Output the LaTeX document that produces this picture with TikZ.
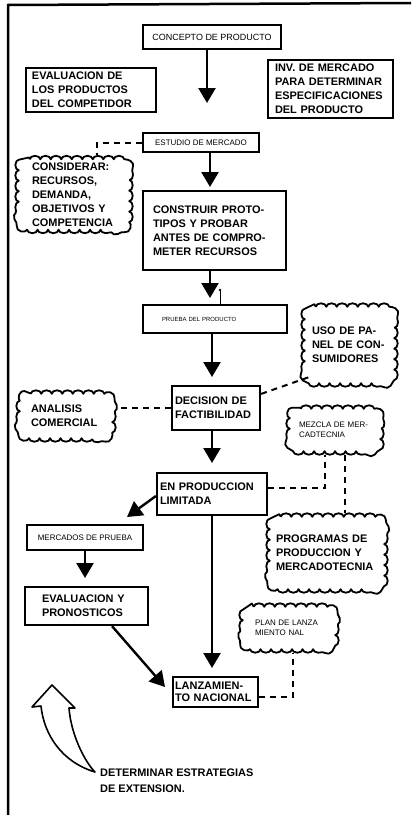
\documentclass[tikz,border=0pt]{standalone}
\usepackage{fontspec}
\setmainfont{Liberation Sans}
\usetikzlibrary{arrows.meta,decorations.pathmorphing}

\begin{document}
\begin{tikzpicture}[
                x=1bp, y=-1bp,
                box/.style={draw=black, line width=2.2bp, inner ysep=0pt, align=left},
                smallbox/.style={draw=black, line width=2.2bp, inner sep=0pt, align=center,
                    font=\fontsize{8}{10}\selectfont},
                puff/.style={inner ysep=1bp, align=left},
                puffline/.style={draw=black, line width=1.8bp, line join=round, decorate,
                    decoration={bumps, segment length=21bp, amplitude=3.5bp}},
                heavy/.style={font=\bfseries\fontsize{11}{14}\selectfont},
                fineprint/.style={font=\fontsize{8}{10}\selectfont},
                flow/.style={line width=2.4bp, -{Triangle[width=17bp,length=15bp]}},
                link/.style={line width=2bp, dash pattern=on 6bp off 5bp},
                frame/.style={line width=2.5bp}]
        \useasboundingbox (0,0) rectangle (411,815);

        % Page frame, only the top and left edges survive.
        \draw[frame] (8,815) -- (8,5) -- (411,3);

        % Main chain of steps.
        \node[smallbox, minimum width=138bp, minimum height=24bp, font=\fontsize{9}{11}\selectfont]
                (concepto) at (212,37) {CONCEPTO DE PRODUCTO};
        \node[box, heavy, inner xsep=6bp, text width=118bp, minimum height=44bp]
                (competidor) at (91,90) {EVALUACION DE\\LOS PRODUCTOS\\DEL COMPETIDOR};
        \node[box, heavy, inner xsep=7bp, text width=111bp, minimum height=58bp]
                (invmercado) at (330.5,89) {INV. DE MERCADO\\PARA DETERMINAR\\ESPECIFICACIONES\\DEL PRODUCTO};
        \node[smallbox, minimum width=116bp, minimum height=19bp]
                (estudio) at (201,142.5) {ESTUDIO DE MERCADO};
        \node[box, heavy, inner xsep=10bp, text width=123bp, minimum height=79bp]
                (construir) at (214.5,230.5) {CONSTRUIR PROTO-\\TIPOS Y PROBAR\\ANTES DE COMPRO-\\METER RECURSOS};
        \node[smallbox, align=left, inner xsep=19bp, text width=106bp, minimum height=28bp,
                font=\fontsize{6}{8}\selectfont]
                (prueba) at (215,319) {PRUEBA DEL PRODUCTO};
        \node[box, heavy, inner xsep=3bp, text width=82bp, minimum height=44bp]
                (decision) at (216,408) {DECISION DE\\FACTIBILIDAD};
        \node[box, heavy, inner xsep=3bp, text width=104bp, minimum height=42bp]
                (enprod) at (212,494) {EN PRODUCCION\\LIMITADA};
        \node[smallbox, minimum width=116bp, minimum height=25bp]
                (mercados) at (85,537.5) {MERCADOS DE PRUEBA};
        \node[box, heavy, inner xsep=17bp, text width=89bp, minimum height=38bp]
                (evalpron) at (86.5,606) {EVALUACION Y\\PRONOSTICOS};
        \node[box, font=\bfseries\fontsize{11}{12}\selectfont, inner xsep=2bp, text width=81bp,
                minimum height=30bp]
                (lanz) at (215.5,692) {LANZAMIEN-\\TO NACIONAL};

        % Clouds with the side notes; outlines are drawn below.
        \node[puff, heavy, inner xsep=13bp, text width=84bp, minimum height=70bp]
                (consid) at (74,194.5) {CONSIDERAR:\\RECURSOS,\\DEMANDA,\\OBJETIVOS Y\\COMPETENCIA};
        \node[puff, heavy, inner xsep=7bp, text width=75bp, minimum height=76bp]
                (uso) at (349.5,345) {USO DE PA-\\NEL DE CON-\\SUMIDORES};
        \node[puff, heavy, inner xsep=11bp, text width=70bp, minimum height=44bp]
                (analisis) at (66,416) {ANALISIS\\COMERCIAL};
        \node[puff, fineprint, inner xsep=9bp, text width=72bp, minimum height=42bp]
                (mezcla) at (335,430) {MEZCLA DE MER-\\CADTECNIA};
        \node[puff, heavy, inner xsep=6bp, text width=102bp, minimum height=72bp]
                (programas) at (327,553) {PROGRAMAS DE\\PRODUCCION Y\\MERCADOTECNIA};
        \node[puff, fineprint, inner xsep=12bp, text width=68bp, minimum height=42bp]
                (plan) at (289,628) {PLAN DE LANZA\\MIENTO NAL};
        \foreach \c in {consid,uso,analisis,mezcla,programas,plan} {
                \draw[puffline] {[rounded corners=11bp] (\c.north west) -- (\c.north east)
                        -- (\c.south east) -- (\c.south west) -- cycle};
        }

        % Arrow tips stop short of the next step.
        \coordinate (t1) at (207,103);
        \coordinate (t2) at (210,187);
        \coordinate (t3) at (210,298);
        \coordinate (t4) at (212,377);
        \coordinate (t5) at (212,463);
        \coordinate (t6) at (127,517);
        \coordinate (t7) at (85,578);
        \coordinate (t8) at (212,668);
        \coordinate (t9) at (165,687);
        \draw[flow] (concepto.south -| t1) -- (t1);
        \draw[flow] (estudio.south -| t2) -- (t2);
        \draw[flow] (construir.south -| t3) -- (t3);
        \draw[flow] (prueba.south -| t4) -- (t4);
        \draw[flow] (decision.south -| t5) -- (t5);
        \draw[flow] ([yshift=-2bp]enprod.west) -- (t6);
        \draw[flow] (mercados.south -| t7) -- (t7);
        \draw[flow] (enprod.south -| t8) -- (t8);
        \draw[flow] ([xshift=25.5bp]evalpron.south) -- (t9);

        % Stray tick beside the arrow into the product test.
        \coordinate (tick) at (220,290);
        \draw[line width=0.8bp] (tick) -- (tick |- prueba.north);
        \fill (tick) circle (1.3bp);

        % Dashed links to the notes.
        \draw[link] (estudio.west) -| ([xshift=23bp,yshift=4bp]consid.north);
        \draw[link] ([yshift=-9bp]decision.north east) -- ([xshift=4bp,yshift=6bp]uso.south west);
        \draw[link] (decision.west) -- ([xshift=4bp]decision.west -| analisis.east);
        \draw[link] ([yshift=6bp]enprod.east) -| ([xshift=-10bp,yshift=-4bp]mezcla.south);
        \draw[link] ([xshift=10bp,yshift=-4bp]mezcla.south)
                -- ([xshift=10bp,yshift=4bp]mezcla.south |- programas.north);
        \draw[link] ([yshift=-5bp]lanz.east) -| ([xshift=4bp,yshift=-4bp]plan.south);

        % Hollow curved arrow and its caption.
        \draw[line width=1.6bp, line join=round] (95,772)
                .. controls (85,762) and (71,735) .. (69,708) -- (75,708) -- (52,685) -- (32,707)
                -- (41,706) .. controls (44,735) and (62,762) .. cycle;
        \node[font=\bfseries\fontsize{11}{16}\selectfont, align=left, anchor=west, inner sep=0pt]
                (extension) at (100,781) {DETERMINAR ESTRATEGIAS\\DE EXTENSION.};
\end{tikzpicture}
\end{document}
